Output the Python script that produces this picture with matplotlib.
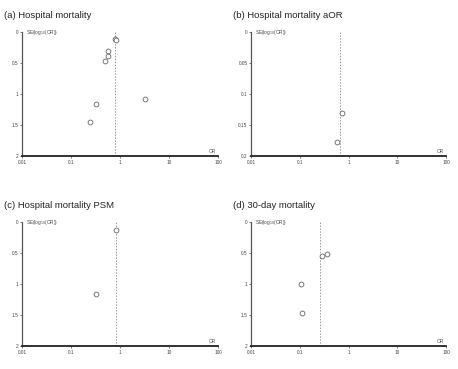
import matplotlib.pyplot as plt
import numpy as np

plt.rcParams['font.family'] = ['Liberation Sans', 'DejaVu Sans']

# funnel plot data: odds ratio (x) and SE(log10(OR)) (y) for each panel
or_a = [0.80, 0.81, 0.58, 0.58, 0.49, 0.33, 0.24, 3.2]
se_a = [0.11, 0.12, 0.31, 0.39, 0.47, 1.16, 1.45, 1.08]
pooled_a = 0.78

or_b = [0.75, 0.57]
se_b = [0.130, 0.178]
pooled_b = 0.67

or_c = [0.84, 0.33]
se_c = [0.12, 1.16]
pooled_c = 0.82

or_d = [0.29, 0.37, 0.106, 0.11]
se_d = [0.54, 0.51, 1.00, 1.47]
pooled_d = 0.26

titles = ["(a) Hospital mortality", "(b) Hospital mortality aOR",
          "(c) Hospital mortality PSM", "(d) 30-day mortality"]
ymaxes = [2, 0.2, 2, 2]
yticks = [[0, 0.5, 1, 1.5, 2], [0, 0.05, 0.1, 0.15, 0.2],
          [0, 0.5, 1, 1.5, 2], [0, 0.5, 1, 1.5, 2]]
ytick_labels = [["0", "0.5", "1", "1.5", "2"], ["0", "0.05", "0.1", "0.15", "0.2"],
                ["0", "0.5", "1", "1.5", "2"], ["0", "0.5", "1", "1.5", "2"]]
xticks = [0.01, 0.1, 1, 10, 100]
xtick_labels = ["0.01", "0.1", "1", "10", "100"]

data = [(or_a, se_a, pooled_a), (or_b, se_b, pooled_b),
        (or_c, se_c, pooled_c), (or_d, se_d, pooled_d)]

fig = plt.figure(figsize=(4.58, 3.69), dpi=100)

# axes boxes in figure fractions [left, bottom, width, height]
boxes = [[0.048, 0.577, 0.428, 0.336], [0.548, 0.577, 0.426, 0.336],
         [0.048, 0.062, 0.428, 0.336], [0.548, 0.062, 0.426, 0.336]]
title_pos = [(0.008, 0.958), (0.508, 0.958), (0.008, 0.443), (0.508, 0.443)]

for i in range(4):
    ax = fig.add_axes(boxes[i])
    x, y, pooled = data[i]
    ax.set_xscale("log")
    ax.set_xlim(0.01, 100)
    ax.set_ylim(ymaxes[i], 0)  # inverted: SE 0 at top
    ax.axvline(pooled, color="#999999", linestyle=(0, (1.5, 1.5)), linewidth=0.7)
    ax.scatter(x, y, s=12, facecolors="white", edgecolors="#666666", linewidths=0.6, zorder=3)

    for side in ["top", "right"]:
        ax.spines[side].set_visible(False)
    ax.spines["left"].set_color("#555555")
    ax.spines["bottom"].set_color("#222222")
    ax.spines["left"].set_linewidth(0.9)
    ax.spines["bottom"].set_linewidth(1.3)

    ax.set_xticks(xticks)
    ax.set_xticklabels(xtick_labels)
    ax.minorticks_off()
    ax.set_yticks(yticks[i])
    ax.set_yticklabels(ytick_labels[i])
    ax.tick_params(labelsize=3.4, length=1.5, width=0.5, pad=1, colors="#444444")

    ax.text(0.02, 1.0, "SE(log$_{10}$(OR))", transform=ax.transAxes,
            fontsize=3.4, color="#444444", va="center", ha="left")
    ax.text(0.99, 0.02, "OR", transform=ax.transAxes,
            fontsize=3.4, color="#444444", va="bottom", ha="right")

    fig.text(title_pos[i][0], title_pos[i][1], titles[i], fontsize=6.8,
             color="#222222", va="center", ha="left")

plt.savefig("out.png", dpi=100)
